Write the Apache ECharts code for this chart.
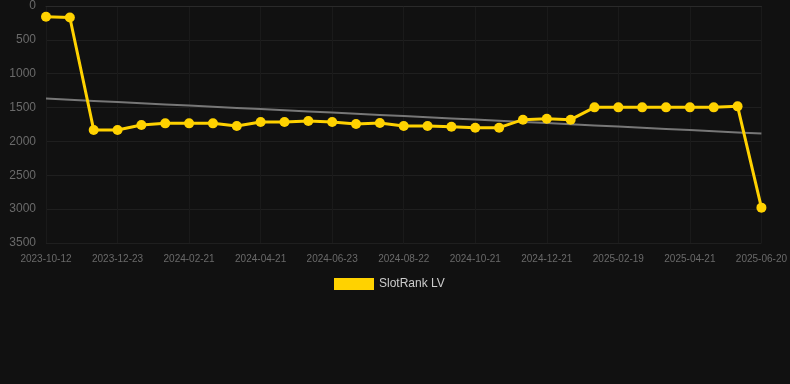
<!DOCTYPE html>
<html>
<head>
<meta charset="utf-8">
<script src="https://cdn.jsdelivr.net/npm/echarts@6/dist/echarts.min.js"></script>
<style>
html,body{margin:0;padding:0;background:#111111;}
#chart{width:790px;height:384px;}
</style>
</head>
<body>
<div id="chart"></div>
<script>
const categories = ['2023-10-12','2023-11-05','2023-11-29','2023-12-23','2024-01-12','2024-02-01','2024-02-21','2024-03-12','2024-04-01','2024-04-21','2024-05-12','2024-06-02','2024-06-23','2024-07-13','2024-08-02','2024-08-22','2024-09-11','2024-10-01','2024-10-21','2024-11-10','2024-12-01','2024-12-21','2025-01-10','2025-01-30','2025-02-19','2025-03-11','2025-04-01','2025-04-21','2025-05-11','2025-05-31','2025-06-20'];
const rankValues = [160,170,1830,1830,1757,1733,1733,1733,1772,1713,1713,1698,1713,1743,1728,1772,1772,1782,1797,1797,1679,1664,1679,1497,1497,1497,1497,1497,1497,1482,2978];
const yTicks = [0,500,1000,1500,2000,2500,3000,3500];

// linear regression trend derived from the data
const n = rankValues.length;
let sx=0, sy=0, sxx=0, sxy=0;
rankValues.forEach((v,i)=>{sx+=i;sy+=v;sxx+=i*i;sxy+=i*v;});
const slope = (n*sxy - sx*sy)/(n*sxx - sx*sx);
const intercept = (sy - slope*sx)/n;
const trend = rankValues.map((v,i)=>intercept + slope*i);

const chart = echarts.init(document.getElementById('chart'));
chart.setOption({
  backgroundColor:'#111111',
  animation:false,
  grid:{left:46,right:28,top:6,bottom:141,containLabel:false},
  legend:{
    data:['SlotRank LV'],
    top:273,left:329,
    icon:'rect',itemWidth:40,itemHeight:12,itemGap:10,
    textStyle:{color:'#cccccc',fontSize:12,fontFamily:'Liberation Sans, Arial, sans-serif'}
  },
  xAxis:{
    type:'category',
    data:categories,
    boundaryGap:false,
    axisLine:{show:true,lineStyle:{color:'#2a2a2a',width:1}},
    axisTick:{show:false},
    axisLabel:{interval:2,color:'#6a6a6a',fontSize:10,margin:11,fontFamily:'Liberation Sans, Arial, sans-serif'},
    splitLine:{show:true,interval:2,lineStyle:{color:'#1a1a1a',width:1}}
  },
  yAxis:{
    type:'value',
    inverse:true,
    min:yTicks[0],max:yTicks[yTicks.length-1],interval:500,
    axisLine:{show:false},
    axisTick:{show:false},
    axisLabel:{color:'#6a6a6a',fontSize:12,margin:10,formatter:function(v){return String(v);},fontFamily:'Liberation Sans, Arial, sans-serif'},
    splitLine:{show:true,lineStyle:{color:'#1f1f1f',width:1}}
  },
  series:[
    {
      name:'SlotRank LV',
      type:'line',
      data:rankValues,
      symbol:'circle',
      symbolSize:10,
      lineStyle:{color:'#FFD200',width:3},
      itemStyle:{color:'#FFD200'},
      z:3
    },
    {
      name:'Trend',
      type:'line',
      data:trend,
      symbol:'none',
      lineStyle:{color:'#777777',width:2},
      itemStyle:{color:'#777777'},
      z:2
    }
  ]
});
</script>
</body>
</html>
